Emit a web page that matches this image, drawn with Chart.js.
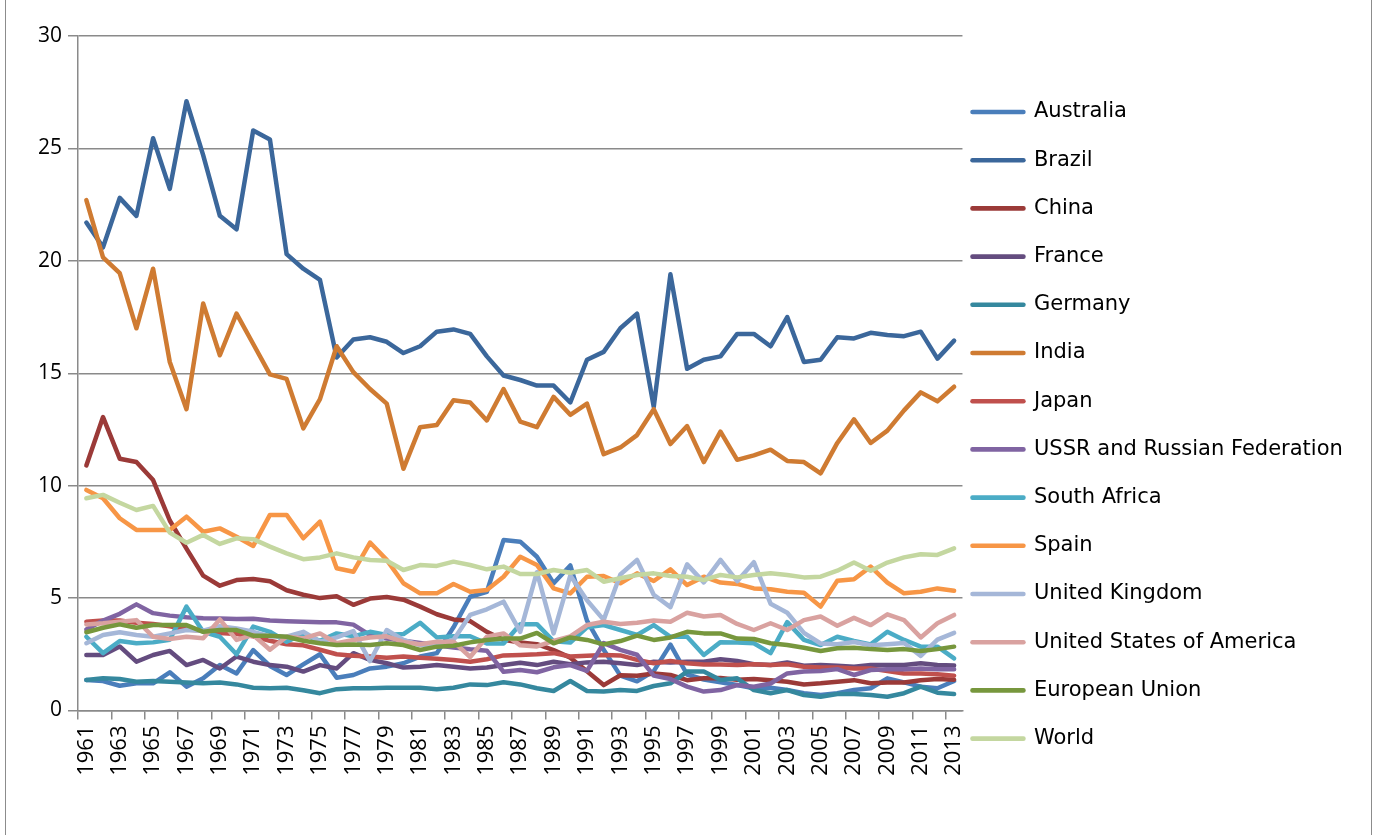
<!DOCTYPE html>
<html>
<head>
<meta charset="utf-8">
<script src="https://cdn.jsdelivr.net/npm/chart.js@4.4.1/dist/chart.umd.min.js"></script>
<style>
  html, body { margin: 0; padding: 0; background: #fff; }
  #wrap { position: relative; width: 1375px; height: 835px; overflow: hidden; }
  #chart { position: absolute; left: 0; top: 0; }
  #frame {
    position: absolute; left: 5px; top: -2px; width: 1365px; height: 840px;
    border: 1px solid #8c8c8c; pointer-events: none;
  }
</style>
</head>
<body>
<div id="wrap">
  <canvas id="chart" width="1375" height="835"></canvas>
  <div id="frame"></div>
</div>
<script>
// ===================================
//   Line chart — 1961 to 2013
// ===================================

const years = [
  '1961','1962','1963','1964','1965','1966','1967','1968','1969','1970',
  '1971','1972','1973','1974','1975','1976','1977','1978','1979','1980',
  '1981','1982','1983','1984','1985','1986','1987','1988','1989','1990',
  '1991','1992','1993','1994','1995','1996','1997','1998','1999','2000',
  '2001','2002','2003','2004','2005','2006','2007','2008','2009','2010',
  '2011','2012','2013'
];

const yTicks = [0, 5, 10, 15, 20, 25, 30];

const australia = [1.36,1.31,1.1,1.21,1.21,1.7,1.06,1.43,2.02,1.65, 2.69,1.98,1.58,2.05,2.5,1.46,1.58,1.87,1.95,2.1, 2.4,2.55,3.7,5.06,5.28,7.58,7.51,6.84,5.66,6.45, 4.0,2.7,1.55,1.3,1.75,2.93,1.6,1.38,1.25,1.13, 0.99,1.01,0.91,0.77,0.69,0.77,0.91,0.99,1.43,1.25, 1.06,0.99,1.31];
const brazil = [21.7,20.6,22.8,22.0,25.45,23.2,27.1,24.7,22.0,21.4, 25.8,25.4,20.3,19.65,19.15,15.7,16.5,16.6,16.4,15.9, 16.2,16.85,16.95,16.75,15.75,14.9,14.7,14.45,14.45,13.7, 15.6,15.95,17.0,17.65,13.5,19.4,15.2,15.6,15.75,16.75, 16.75,16.2,17.5,15.5,15.6,16.6,16.55,16.8,16.7,16.65, 16.85,15.65,16.45];
const china = [10.9,13.05,11.2,11.05,10.25,8.45,7.2,6.0,5.55,5.8, 5.85,5.75,5.35,5.15,5.0,5.08,4.7,4.98,5.05,4.93, 4.62,4.28,4.05,3.98,3.5,3.14,3.02,2.95,2.69,2.35, 1.75,1.13,1.57,1.55,1.65,1.58,1.35,1.43,1.45,1.37, 1.4,1.35,1.28,1.16,1.21,1.28,1.35,1.21,1.25,1.25, 1.35,1.4,1.37];
const france = [2.47,2.47,2.85,2.17,2.47,2.65,2.02,2.25,1.87,2.4, 2.17,2.02,1.95,1.73,2.02,1.87,2.55,2.25,2.1,1.91, 1.95,2.02,1.95,1.87,1.91,2.02,2.12,2.02,2.17,2.06, 2.14,2.17,2.1,2.02,2.17,2.14,2.17,2.17,2.28,2.2, 2.06,2.02,2.14,1.99,2.02,1.99,1.95,2.02,2.02,2.02, 2.1,2.02,2.0];
const germany = [1.36,1.43,1.4,1.28,1.31,1.28,1.25,1.21,1.25,1.16, 1.01,0.99,1.01,0.9,0.77,0.95,0.99,0.99,1.01,1.01, 1.01,0.95,1.01,1.16,1.13,1.26,1.16,0.99,0.87,1.31, 0.87,0.84,0.91,0.87,1.09,1.21,1.73,1.73,1.36,1.43, 0.91,0.77,0.91,0.69,0.61,0.73,0.73,0.69,0.61,0.77, 1.06,0.79,0.73];
const india = [22.7,20.15,19.45,17.0,19.65,15.5,13.4,18.1,15.8,17.65, 16.3,14.95,14.75,12.55,13.85,16.2,15.05,14.3,13.65,10.75, 12.6,12.7,13.8,13.7,12.9,14.3,12.85,12.6,13.95,13.15, 13.65,11.4,11.7,12.25,13.4,11.85,12.65,11.05,12.4,11.15, 11.35,11.6,11.1,11.05,10.55,11.9,12.95,11.9,12.45,13.35, 14.15,13.75,14.4];
const japan = [3.95,4.0,4.0,3.9,3.85,3.75,3.6,3.55,3.45,3.4, 3.3,3.1,2.95,2.9,2.7,2.5,2.44,2.4,2.35,2.4, 2.35,2.3,2.25,2.17,2.28,2.45,2.47,2.5,2.55,2.4, 2.44,2.47,2.45,2.25,2.1,2.2,2.1,2.05,2.05,2.02, 2.06,2.02,2.06,1.95,1.91,1.91,1.87,1.87,1.76,1.65, 1.65,1.61,1.55];
const ussr = [3.6,4.0,4.3,4.72,4.33,4.22,4.15,4.1,4.09,4.07, 4.08,4.0,3.97,3.95,3.93,3.92,3.82,3.35,3.2,3.1, 3.0,2.9,2.8,2.72,2.66,1.72,1.8,1.7,1.92,2.02, 1.76,3.0,2.7,2.48,1.55,1.4,1.06,0.84,0.91,1.13, 1.06,1.2,1.65,1.73,1.76,1.84,1.58,1.8,1.84,1.84, 1.87,1.84,1.84];
const southAfrica = [3.28,2.55,3.09,2.99,3.03,3.15,4.62,3.5,3.28,2.5, 3.73,3.5,3.06,3.4,3.1,3.43,3.3,3.5,3.36,3.4, 3.9,3.25,3.3,3.3,2.98,2.98,3.84,3.84,3.08,3.02, 3.7,3.8,3.58,3.36,3.8,3.28,3.28,2.47,3.04,3.02, 2.99,2.55,3.93,3.14,2.91,3.28,3.09,2.94,3.5,3.14, 2.84,2.84,2.32];
const spain = [9.81,9.44,8.55,8.03,8.03,8.03,8.62,7.95,8.1,7.73, 7.32,8.7,8.7,7.66,8.4,6.33,6.17,7.47,6.7,5.66, 5.21,5.21,5.63,5.28,5.36,5.95,6.84,6.47,5.43,5.21, 5.95,5.98,5.66,6.1,5.76,6.28,5.58,5.95,5.69,5.63, 5.43,5.39,5.28,5.24,4.62,5.77,5.84,6.4,5.69,5.21, 5.28,5.43,5.33];
const uk = [2.99,3.36,3.48,3.36,3.28,3.43,3.58,3.55,3.75,3.65, 3.5,3.3,3.28,3.5,3.06,3.25,3.53,2.2,3.58,3.14, 2.91,2.94,3.14,4.25,4.5,4.84,3.5,6.15,3.43,6.0, 4.9,4.03,6.05,6.7,5.15,4.6,6.5,5.7,6.7,5.75, 6.6,4.75,4.35,3.45,2.98,2.95,3.05,2.9,2.95,3.0, 2.43,3.15,3.45];
const usa = [3.83,3.88,3.95,4.02,3.28,3.18,3.28,3.21,4.05,3.14, 3.36,2.7,3.28,3.21,3.43,2.99,3.14,3.25,3.3,3.05, 2.95,3.06,3.06,2.38,3.28,3.43,2.9,2.85,3.1,3.3, 3.8,3.95,3.85,3.9,4.0,3.95,4.35,4.18,4.25,3.85, 3.58,3.88,3.58,4.02,4.18,3.77,4.12,3.8,4.28,4.02, 3.25,3.88,4.25];
const eu = [3.48,3.68,3.83,3.68,3.8,3.8,3.8,3.5,3.58,3.58, 3.33,3.33,3.28,3.1,2.99,2.91,2.94,2.91,2.99,2.91, 2.69,2.84,2.88,3.03,3.14,3.2,3.2,3.45,2.99,3.25, 3.14,2.94,3.09,3.33,3.14,3.25,3.5,3.43,3.43,3.2, 3.18,2.99,2.91,2.79,2.65,2.77,2.79,2.73,2.69,2.73, 2.65,2.73,2.84];
const world = [9.44,9.59,9.24,8.92,9.1,7.91,7.46,7.81,7.41,7.66, 7.62,7.29,6.99,6.73,6.81,6.99,6.81,6.69,6.66,6.25, 6.47,6.43,6.62,6.47,6.28,6.4,6.07,6.07,6.25,6.13, 6.25,5.73,5.88,6.03,6.1,5.98,5.95,5.8,6.03,5.92, 6.03,6.1,6.03,5.92,5.95,6.22,6.58,6.22,6.58,6.81, 6.95,6.92,7.21];

const seriesNames = [
  'Australia', 'Brazil', 'China', 'France', 'Germany', 'India', 'Japan',
  'USSR and Russian Federation', 'South Africa', 'Spain', 'United Kingdom',
  'United States of America', 'European Union', 'World'
];
const seriesValues = [
  australia, brazil, china, france, germany, india, japan,
  ussr, southAfrica, spain, uk, usa, eu, world
];
const seriesColors = [
  '#4a7ebb', '#3b679b', '#9b3a38', '#644c7f', '#35889e', '#cf7b32', '#c0504d',
  '#8064a2', '#4bacc6', '#f79646', '#a5b7d8', '#d9a2a0', '#77973d', '#c4d7a0'
];

const GRID = '#8a8a8a';
const LEGEND_PAD = 27.2;

// nudge the legend closer to the plot, like the original layout
const legendNudge = {
  id: 'legendNudge',
  afterLayout(chart) {
    if (chart.legend) chart.legend.left = chart.chartArea.right + 10 - LEGEND_PAD;
  }
};

const datasets = seriesNames.map((name, i) => ({
  label: name,
  data: seriesValues[i],
  borderColor: seriesColors[i],
  backgroundColor: seriesColors[i],
  borderWidth: 4.5,
  borderJoinStyle: 'round',
  borderCapStyle: 'round',
  pointRadius: 0,
  tension: 0,
  // later series drawn on top (Excel style)
  order: seriesNames.length - i
}));

new Chart(document.getElementById('chart'), {
  type: 'line',
  data: { labels: years, datasets },
  plugins: [legendNudge],
  options: {
    responsive: false,
    animation: false,
    devicePixelRatio: 1,
    layout: { padding: { top: 36, bottom: 20.4, left: 0, right: 5 } },
    plugins: {
      tooltip: { enabled: false },
      legend: {
        position: 'right',
        align: 'center',
        maxWidth: 414,
        labels: {
          boxWidth: 51,
          boxHeight: 0.1,
          padding: LEGEND_PAD,
          color: '#000',
          font: { family: 'DejaVu Sans', size: 21 },
          sort: (a, b) => a.datasetIndex - b.datasetIndex
        }
      }
    },
    scales: {
      x: {
        type: 'category',
        offset: true,
        afterFit: s => { s.height = 104.1; s.paddingLeft = 0; s.paddingRight = 0; },
        grid: {
          offset: true,
          drawOnChartArea: false,
          drawTicks: true,
          tickLength: 9,
          lineWidth: 1.5,
          color: GRID,
          tickColor: ctx => (ctx.index % 2 === 0 ? GRID : 'rgba(0,0,0,0)')
        },
        border: { display: true, color: GRID, width: 1.5 },
        ticks: {
          autoSkip: false,
          maxRotation: 90,
          minRotation: 90,
          padding: 6,
          color: '#000',
          font: { family: 'Open Sans', size: 22 },
          callback: (v, i) => (i % 2 === 0 ? years[i] : '')
        }
      },
      y: {
        min: yTicks[0],
        max: yTicks[yTicks.length - 1],
        afterFit: s => { s.width = 78; s.paddingTop = 0; s.paddingBottom = 0; },
        afterBuildTicks: s => { s.ticks = yTicks.map(v => ({ value: v })); },
        grid: {
          color: GRID,
          lineWidth: 1.5,
          drawTicks: true,
          tickLength: 10
        },
        border: { display: true, color: GRID, width: 1.5 },
        ticks: {
          padding: 6,
          color: '#000',
          font: { family: 'Open Sans', size: 21 }
        }
      }
    }
  }
});
</script>
</body>
</html>
